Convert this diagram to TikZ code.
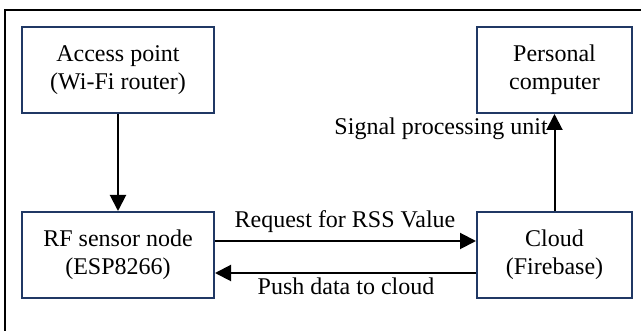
\documentclass[tikz,border=0pt]{standalone}
\usepackage{fontspec}
\setmainfont{Liberation Serif}
\usetikzlibrary{arrows.meta}
\definecolor{boxline}{HTML}{203864}
\tikzset{
  blk/.style={draw=boxline, line width=2pt, inner sep=0pt, align=center, font=\fontsize{24}{28}\selectfont},
  conn/.style={line width=2pt, -{Triangle[length=16pt,width=16pt]}},
  lbl/.style={inner sep=0pt, font=\fontsize{24}{28}\selectfont}
}
\begin{document}
\begin{tikzpicture}[x=1pt,y=-1pt]
\clip (0,0) rectangle (641,331);
\fill[white] (0,0) rectangle (641,331);
\draw[line width=2pt] (5,10) rectangle (680,380);
\node[blk, minimum width=192pt, minimum height=86pt] (ap) at (118,70) {Access point\\(Wi-Fi router)};
\node[blk, minimum width=155pt, minimum height=86pt] (pc) at (554.5,70) {Personal\\computer};
\node[blk, minimum width=192pt, minimum height=86pt] (rf) at (118,255) {RF sensor node\\(ESP8266)};
\node[blk, minimum width=155pt, minimum height=86pt] (cl) at (554.5,255) {Cloud\\(Firebase)};
\draw[conn] (ap.south) -- (rf.north);
\draw[conn] (cl.north) -- (pc.south);
\draw[conn] ([yshift=14pt]rf.east) -- ([yshift=14pt]cl.west);
\draw[conn] ([yshift=-18pt]cl.west) -- ([yshift=-18pt]rf.east);
\node[lbl] (req) at (345,222) {Request for RSS Value};
\node[lbl] (push) at (346,286) {Push data to cloud};
\node[lbl, anchor=east] (sig) at (548,129) {Signal processing unit};
\end{tikzpicture}
\end{document}
